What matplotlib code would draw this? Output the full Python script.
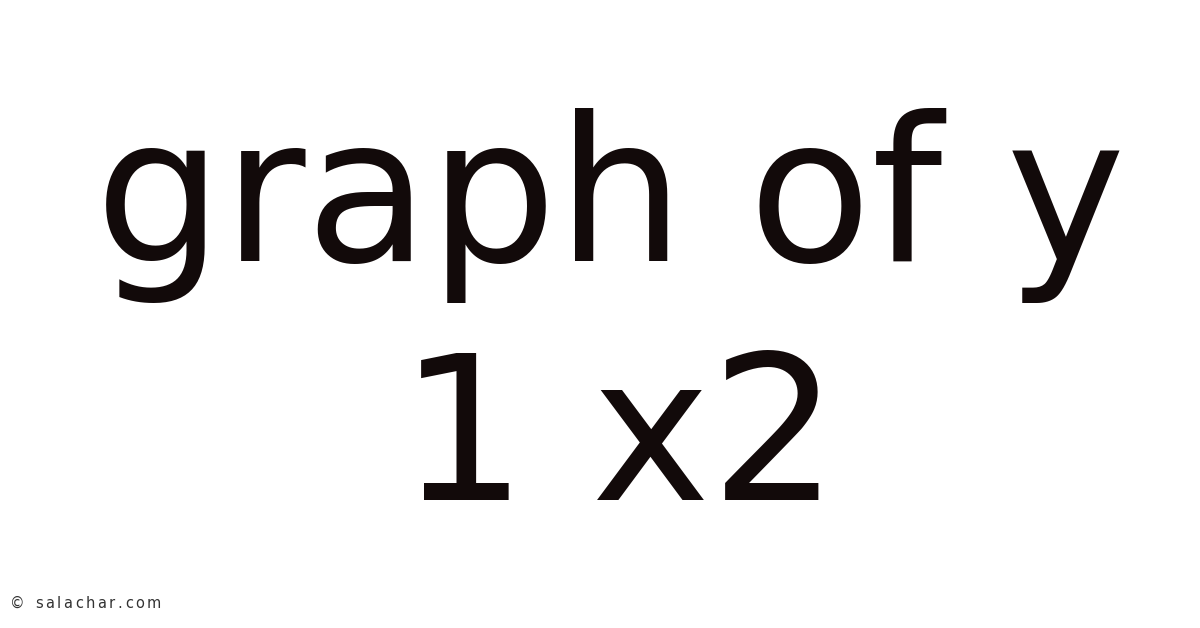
import matplotlib as mpl
mpl.use('Agg')
import matplotlib.pyplot as plt

# title text, one entry per line
lines = ["graph of y", "1 x2"]
centers = [610, 619]     # ink centre of each line, px from left
baselines = [261, 500]   # baseline rows, px from top
watermark = "\u00a9 salachar.com"

W, H = 1200, 628
fig = plt.figure(figsize=(W / 100, H / 100), dpi=100)
fig.patch.set_facecolor('white')

for txt, xc, yb in zip(lines, centers, baselines):
    fig.text(xc / W, 1 - yb / H, txt, ha='center', va='baseline',
             fontsize=145, family='DejaVu Sans', color='#120a0a')

# watermark is drawn wide and letter-spaced, so set it char by char
renderer = fig.canvas.get_renderer()
x = 10
for ch in watermark:
    if ch == ' ':
        x += 8
        continue
    t = fig.text(x / W, 1 - 608 / H, ch, ha='left', va='baseline',
                 fontsize=10.5, family='DejaVu Sans', color='#333333')
    x += t.get_window_extent(renderer).width + 2.5

fig.savefig('out.png', dpi=100, facecolor='white')
